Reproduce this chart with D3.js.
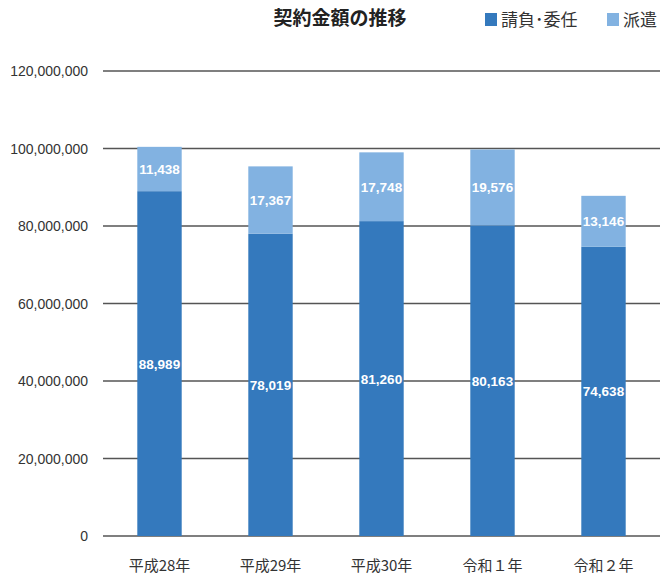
<!DOCTYPE html>
<html>
<head>
<meta charset="utf-8">
<script src="https://cdn.jsdelivr.net/npm/d3@7"></script>
<style>
  body { margin: 0; background: #fff; }
  .tick-label { font-family: "Liberation Sans", sans-serif; font-size: 14px; fill: #333; }
  .cat-label { font-family: "Noto Sans CJK JP", sans-serif; font-size: 15px; fill: #333; }
  .val-label { font-family: "Liberation Sans", sans-serif; font-size: 13.5px; font-weight: bold; fill: #fff; }
</style>
</head>
<body>
<div id="chart"></div>
<script>
// values are in thousands of yen
const years = ["平成28年", "平成29年", "平成30年", "令和１年", "令和２年"];
const ukeoi = [88989, 78019, 81260, 80163, 74638];
const haken = [11438, 17367, 17748, 19576, 13146];
const yTicks = [0, 20000000, 40000000, 60000000, 80000000, 100000000, 120000000];
const seriesNames = ["請負･委任", "派遣"];
const colors = ["#3479bd", "#82b2e1"];

const width = 671, height = 579;

const svg = d3.select("#chart").append("svg")
    .attr("width", width)
    .attr("height", height);

const x = d3.scaleBand()
    .domain(years)
    .range([104, 659])
    .paddingInner(0.6)
    .paddingOuter(0.3);

const y = d3.scaleLinear()
    .domain([0, 120000000])
    .range([536, 71]);

// gridlines
svg.append("g").selectAll("line")
    .data(yTicks)
    .enter().append("line")
    .attr("x1", 103)
    .attr("x2", 660)
    .attr("y1", d => y(d))
    .attr("y2", d => y(d))
    .attr("stroke", "#555")
    .attr("stroke-width", 1.3);

// y tick labels
svg.append("g").selectAll("text")
    .data(yTicks)
    .enter().append("text")
    .attr("class", "tick-label")
    .attr("x", 88)
    .attr("y", d => y(d) + 5)
    .attr("text-anchor", "end")
    .text(d => d3.format(",")(d));

const rows = years.map((yr, i) => ({year: yr, ukeoi: ukeoi[i], haken: haken[i]}));
const stack = d3.stack().keys(["ukeoi", "haken"])(rows);

const layers = svg.append("g").selectAll("g")
    .data(stack)
    .enter().append("g")
    .attr("fill", (d, i) => colors[i]);

layers.selectAll("rect")
    .data(d => d)
    .enter().append("rect")
    .attr("x", d => x(d.data.year))
    .attr("width", x.bandwidth())
    .attr("y", d => y(d[1] * 1000))
    .attr("height", d => y(d[0] * 1000) - y(d[1] * 1000));

layers.selectAll("text")
    .data(d => d)
    .enter().append("text")
    .attr("class", "val-label")
    .attr("x", d => x(d.data.year) + x.bandwidth() / 2)
    .attr("y", d => (y(d[0] * 1000) + y(d[1] * 1000)) / 2 + 5)
    .attr("text-anchor", "middle")
    .text(d => d3.format(",")(d[1] - d[0]));

// category labels
svg.append("g").selectAll("text")
    .data(years)
    .enter().append("text")
    .attr("class", "cat-label")
    .attr("x", d => x(d) + x.bandwidth() / 2)
    .attr("y", 571)
    .attr("text-anchor", "middle")
    .text(d => d);

// title
svg.append("text")
    .attr("x", 340)
    .attr("y", 25)
    .attr("text-anchor", "middle")
    .style("font-family", "Noto Sans CJK JP, sans-serif")
    .style("font-size", "19px")
    .style("font-weight", "bold")
    .style("fill", "#222")
    .text("契約金額の推移");

// legend
const legendX = [485, 607];
const legend = svg.append("g").selectAll("g")
    .data(seriesNames)
    .enter().append("g")
    .attr("transform", (d, i) => `translate(${legendX[i]}, 13)`);

legend.append("rect")
    .attr("width", 12)
    .attr("height", 13)
    .attr("fill", (d, i) => colors[i]);

legend.append("text")
    .attr("x", 16)
    .attr("y", 13)
    .style("font-family", "Noto Sans CJK JP, sans-serif")
    .style("font-size", "17px")
    .style("fill", "#333")
    .text(d => d);
</script>
</body>
</html>
